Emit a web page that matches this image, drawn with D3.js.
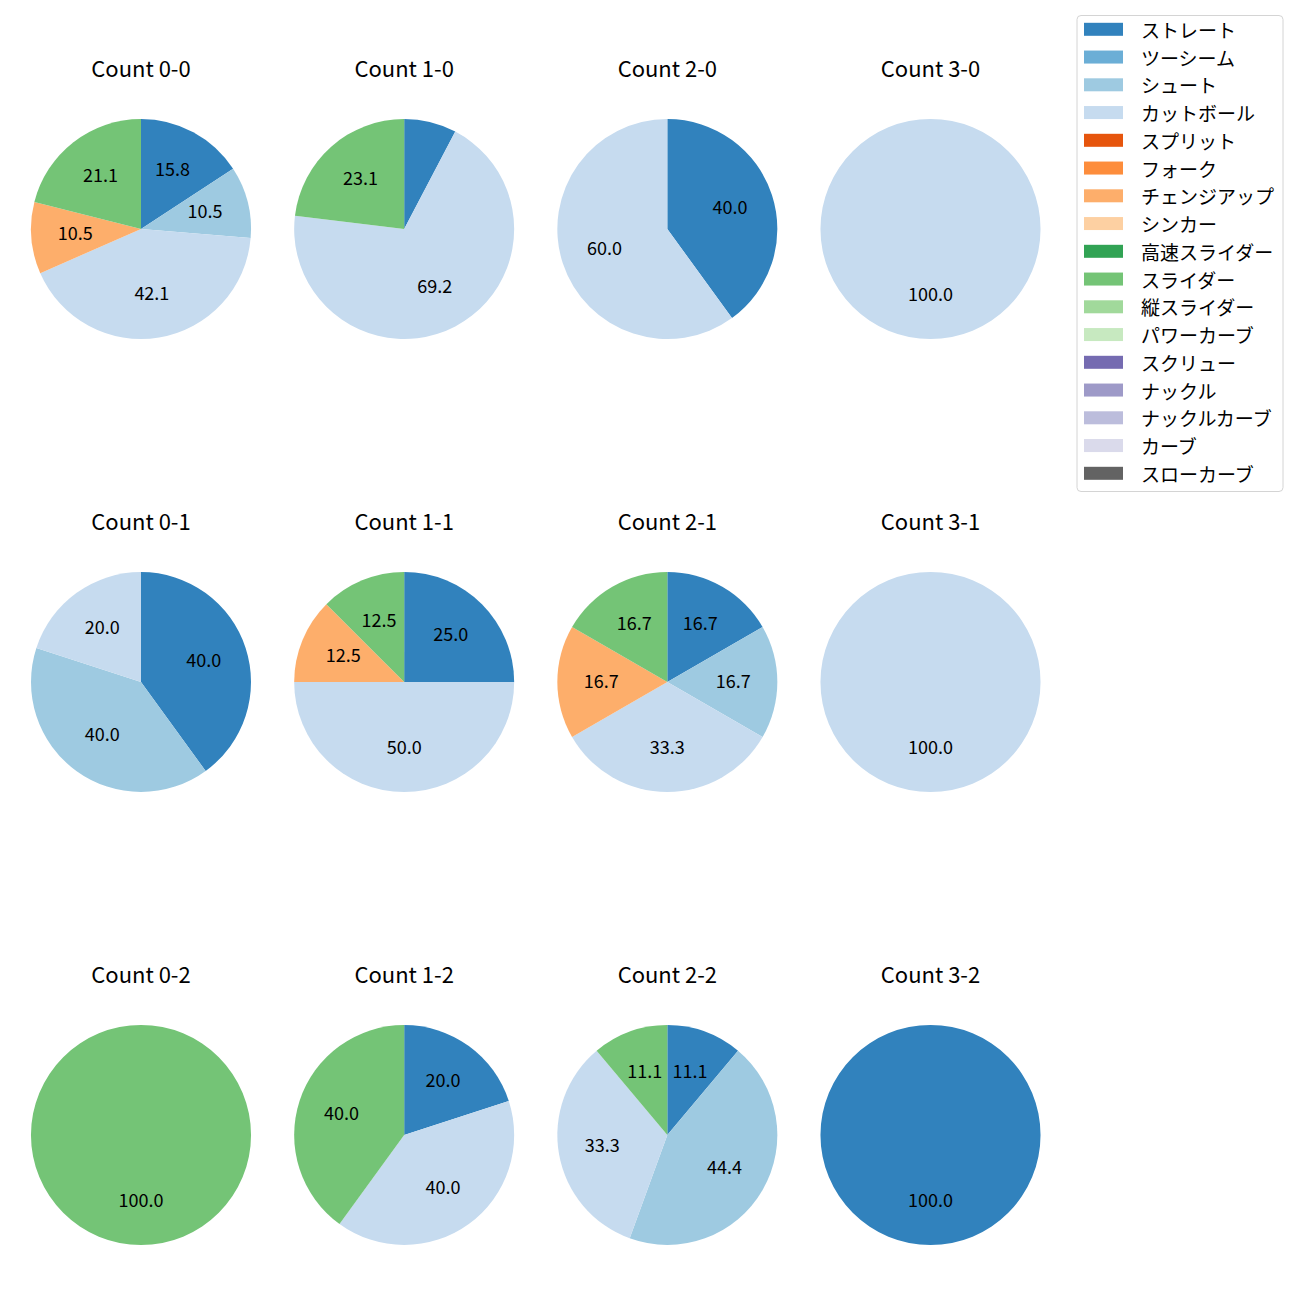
<!DOCTYPE html>
<html>
<head>
<meta charset="utf-8">
<script src="https://cdn.jsdelivr.net/npm/d3@7"></script>
<style>
  html, body { margin: 0; padding: 0; background: #fff; }
  svg { display: block; font-family: "Noto Sans CJK JP", "Noto Sans", sans-serif; }
</style>
</head>
<body>
<svg id="chart" width="1300" height="1300"></svg>
<script>
// ---- data ----
const pitchTypes = ["ストレート","ツーシーム","シュート","カットボール","スプリット","フォーク","チェンジアップ","シンカー","高速スライダー","スライダー","縦スライダー","パワーカーブ","スクリュー","ナックル","ナックルカーブ","カーブ","スローカーブ"];
const pitchColors = ["#3182bd","#6baed6","#9ecae1","#c6dbef","#e6550d","#fd8d3c","#fdae6b","#fdd0a2","#31a354","#74c476","#a1d99b","#c7e9c0","#756bb1","#9e9ac8","#bcbddc","#dadaeb","#636363"];
const countTitles = ["Count 0-0","Count 1-0","Count 2-0","Count 3-0",
                     "Count 0-1","Count 1-1","Count 2-1","Count 3-1",
                     "Count 0-2","Count 1-2","Count 2-2","Count 3-2"];
// pitch counts per ball-strike count, in pitchTypes order
const c00 = [3,0,2,8,0,0,2,0,0,4,0,0,0,0,0,0,0];
const c10 = [1,0,0,9,0,0,0,0,0,3,0,0,0,0,0,0,0];
const c20 = [2,0,0,3,0,0,0,0,0,0,0,0,0,0,0,0,0];
const c30 = [0,0,0,1,0,0,0,0,0,0,0,0,0,0,0,0,0];
const c01 = [2,0,2,1,0,0,0,0,0,0,0,0,0,0,0,0,0];
const c11 = [2,0,0,4,0,0,1,0,0,1,0,0,0,0,0,0,0];
const c21 = [1,0,1,2,0,0,1,0,0,1,0,0,0,0,0,0,0];
const c31 = [0,0,0,1,0,0,0,0,0,0,0,0,0,0,0,0,0];
const c02 = [0,0,0,0,0,0,0,0,0,1,0,0,0,0,0,0,0];
const c12 = [1,0,0,2,0,0,0,0,0,2,0,0,0,0,0,0,0];
const c22 = [1,0,4,3,0,0,0,0,0,1,0,0,0,0,0,0,0];
const c32 = [1,0,0,0,0,0,0,0,0,0,0,0,0,0,0,0,0];
const countValues = [c00,c10,c20,c30,c01,c11,c21,c31,c02,c12,c22,c32];

// ---- layout ----
const svg = d3.select("#chart");
const R = 110;
const xCol = d3.scaleLinear().domain([0,3]).range([141, 930.5]);
const yRow = d3.scaleLinear().domain([0,2]).range([229, 1135]);
const color = d3.scaleOrdinal().domain(pitchTypes).range(pitchColors);

const pie = d3.pie().sort(null).value(d => d.v).startAngle(0).endAngle(2*Math.PI);
const arc = d3.arc().innerRadius(0).outerRadius(R);
const labelArc = d3.arc().innerRadius(R*0.6).outerRadius(R*0.6);

countValues.forEach((vals, i) => {
  const col = i % 4, row = Math.floor(i / 4);
  const g = svg.append("g").attr("transform", `translate(${xCol(col)},${yRow(row)})`);
  const data = pitchTypes.map((p, k) => ({p, v: vals[k]})).filter(d => d.v > 0);
  const total = d3.sum(data, d => d.v);
  const arcs = pie(data);
  g.selectAll("path").data(arcs).join("path")
    .attr("d", arc)
    .attr("fill", d => color(d.data.p));
  g.selectAll("text.lbl").data(arcs.filter(d => d.data.v / total * 100 >= 10)).join("text")
    .attr("class", "lbl")
    .attr("transform", d => { const c = labelArc.centroid(d); return `translate(${c[0]},${c[1] + 5.5})`; })
    .attr("text-anchor", "middle")
    .attr("font-size", 18)
    .attr("fill", "#000")
    .text(d => (d.data.v / total * 100).toFixed(1));
  g.append("text")
    .attr("x", 0).attr("y", -152.5)
    .attr("text-anchor", "middle")
    .attr("font-size", 22)
    .attr("fill", "#000")
    .text(countTitles[i]);
});

// ---- legend ----
const lg = svg.append("g");
lg.append("rect")
  .attr("x", 1077).attr("y", 15.5).attr("width", 206).attr("height", 476)
  .attr("rx", 4).attr("fill", "#fff").attr("fill-opacity", 0.8)
  .attr("stroke", "#d4d4d4").attr("stroke-width", 1);
const ly = d3.scaleLinear().domain([0, pitchTypes.length - 1]).range([29.3, 473.3]);
pitchTypes.forEach((p, i) => {
  lg.append("rect").attr("x", 1084).attr("y", ly(i) - 6.5).attr("width", 39).attr("height", 13)
    .attr("fill", color(p));
  lg.append("text").attr("x", 1141).attr("y", ly(i))
    .attr("dominant-baseline", "central")
    .attr("font-size", 19).attr("fill", "#000")
    .text(p);
});
</script>
</body>
</html>
